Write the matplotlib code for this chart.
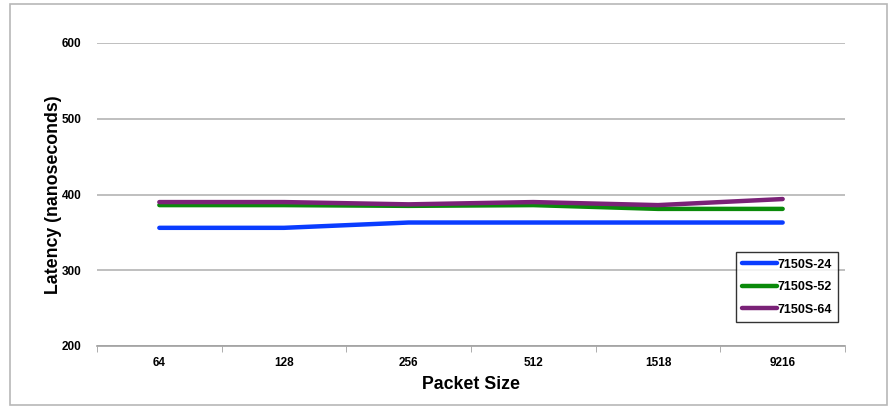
import matplotlib
matplotlib.use("Agg")
import matplotlib.pyplot as plt
from matplotlib.patches import Rectangle

plt.rcParams['font.family'] = ['Liberation Sans', 'DejaVu Sans']

packet_sizes = ["64", "128", "256", "512", "1518", "9216"]
lat_24 = [356, 356, 363, 363, 363, 363]
lat_52 = [386, 386, 385, 386, 381, 381]
lat_64 = [390, 390, 387, 390, 386, 394]

series = [("7150S-24", lat_24, "#0a3cff"),
          ("7150S-52", lat_52, "#0a8a0a"),
          ("7150S-64", lat_64, "#7a2277")]

fig = plt.figure(figsize=(8.9, 4.07), dpi=100)
ax = fig.add_axes([97 / 890, 1 - 346 / 407, 748 / 890, 303 / 407])

x = list(range(len(packet_sizes)))
for name, vals, col in series:
    ax.plot(x, vals, color=col, linewidth=3.2, solid_capstyle='round', label=name)

ax.set_xlim(-0.5, len(packet_sizes) - 0.5)
ax.set_ylim(200, 600)
ax.set_yticks([200, 300, 400, 500, 600])
ax.set_xticks(x)
ax.set_xticklabels(packet_sizes)
ax.set_xticks([i - 0.5 for i in range(len(packet_sizes) + 1)], minor=True)
ax.tick_params(axis='x', which='major', length=0, pad=8, labelsize=8.5)
ax.tick_params(axis='x', which='minor', length=4, color='#a0a0a0')
ax.tick_params(axis='y', length=0, pad=11, labelsize=8.5)
for lab in ax.get_xticklabels() + ax.get_yticklabels():
    lab.set_fontweight('bold')

ax.grid(axis='y', color='#b4b4b4', linewidth=1.2)
ax.set_axisbelow(True)
for s in ['top', 'right', 'left']:
    ax.spines[s].set_visible(False)
ax.spines['bottom'].set_color('#a0a0a0')
ax.spines['bottom'].set_linewidth(1.2)

ax.set_xlabel("Packet Size", fontsize=12.8, fontweight='bold', labelpad=5)
ax.set_ylabel("Latency (nanoseconds)", fontsize=12.8, fontweight='bold', labelpad=0)

leg = ax.legend(loc='lower right', bbox_to_anchor=(838 / 890, 1 - 322 / 407),
                bbox_transform=fig.transFigure, fontsize=9, frameon=True,
                fancybox=False, edgecolor='black', handlelength=2.8,
                handletextpad=0.0, labelspacing=0.85, borderpad=0.5,
                borderaxespad=0)
leg.get_frame().set_linewidth(1.0)
for t in leg.get_texts():
    t.set_fontweight('bold')

fig.patches.append(Rectangle((10 / 890, 2 / 407), 877 / 890, 401 / 407,
                             transform=fig.transFigure, fill=False,
                             edgecolor='#b8b8b8', linewidth=1.2))

fig.savefig("out.png", dpi=100)
